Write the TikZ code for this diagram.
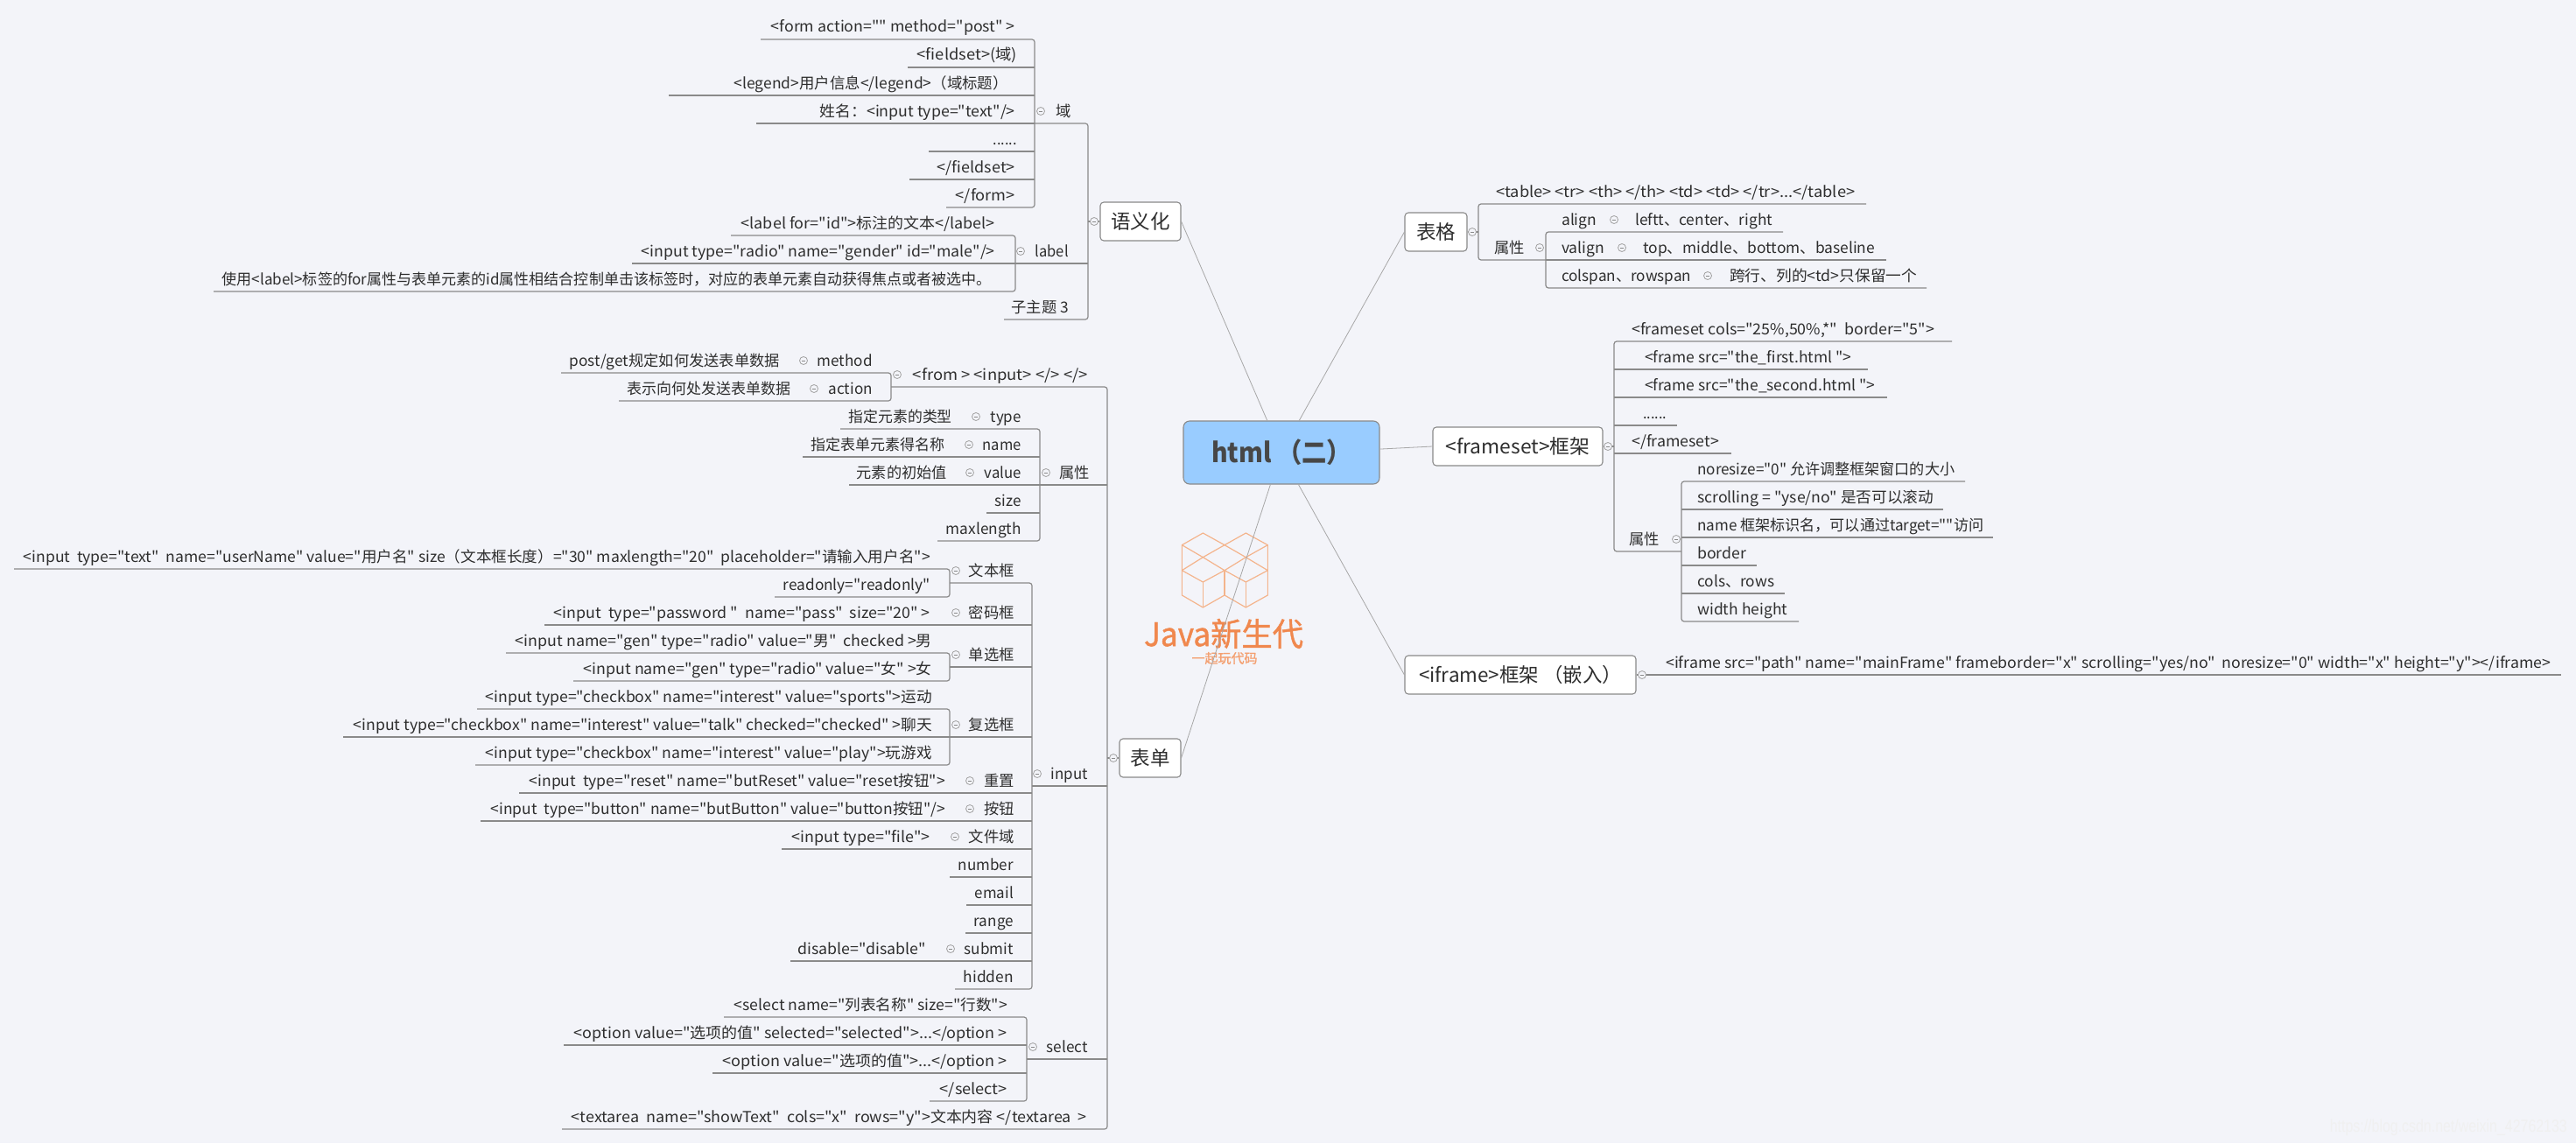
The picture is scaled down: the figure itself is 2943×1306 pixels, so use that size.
\documentclass[tikz,border=0pt]{standalone}
\usepackage{fontspec}
\newfontfamily\cjkf{Noto Sans CJK SC}
\newfontfamily\logof[FakeBold=1.2]{Noto Sans CJK SC}
\setmainfont{Noto Sans CJK SC}
\newfontfamily\wmfont{Liberation Sans}
\definecolor{bgc}{HTML}{F3F4F9}
\definecolor{ulc}{HTML}{8A8A8A}
\definecolor{txc}{HTML}{2E2E2E}
\definecolor{logoc}{HTML}{F3B48C}
\definecolor{logot}{HTML}{F0884E}
\definecolor{rootc}{HTML}{99CCFF}
\tikzset{
  txt/.style={inner sep=0pt,text=txc,font=\cjkf\fontsize{17.3}{20}\selectfont},
  ul/.style={draw=ulc,line width=1.2pt},
  lnk/.style={draw=ulc!75,line width=0.8pt},
  togg/.style={circle,draw=ulc!80,fill=bgc,line width=0.8pt,minimum size=9pt,inner sep=0pt,
    path picture={\draw[ulc,line width=0.7pt] ([xshift=-2pt]path picture bounding box.center) -- ([xshift=2pt]path picture bounding box.center);}},
  topic/.style={rectangle,rounded corners=4pt,draw=ulc,fill=white,line width=1.1pt,inner sep=0pt,minimum height=44pt,text=txc,font=\cjkf\fontsize{22.5}{26}\selectfont},
}
\newcommand\fw[2]{\sbox0{#2}\pgfmathsetmacro\fwf{#1/\wd0}\scalebox{\fwf}[1]{\usebox0}}
\newcommand\rowLe[6]{\coordinate (#1-l) at (#2,#4); \coordinate (#1-r) at (#3,#4); \node[txt,anchor=base east] (#1) at (#5,#4-8) {#6};}
\newcommand\rowLm[6]{\rowLe{#1}{#2}{#3}{#4}{#5}{#6}\draw[ul] (#1-l) -- (#1-r);}
\newcommand\rowRe[6]{\coordinate (#1-l) at (#2,#4); \coordinate (#1-r) at (#3,#4); \node[txt,anchor=base west] (#1) at (#5,#4-8) {#6};}
\newcommand\rowRm[6]{\rowRe{#1}{#2}{#3}{#4}{#5}{#6}\draw[ul] (#1-l) -- (#1-r);}
\newcommand\xtL[4]{\node[txt,anchor=base east] (#1) at (#2,#3-8) {#4};}
\newcommand\xtR[4]{\node[txt,anchor=base west] (#1) at (#2,#3-8) {#4};}
\newcommand\tg[3]{\node[togg] (#1) at (#2,#3-14) {};}
\newcommand\brkL[2]{\draw[ul,rounded corners=3pt] (#1-l) -- (#1-r) -- (#2-r) -- (#2-l);}
\newcommand\brkR[2]{\draw[ul,rounded corners=3pt] (#1-r) -- (#1-l) -- (#2-l) -- (#2-r);}
\begin{document}
\begin{tikzpicture}[x=1pt,y=-1pt]
\useasboundingbox[fill=bgc] (0,0) rectangle (2943,1306);
% logo
\begin{scope}[shift={(1290,600)},x=0.33333pt,y=-0.33333pt,draw=logoc,line width=1.2pt,line join=round]
\draw (181,68)--(253,27)--(327,68)--(253,110)--cycle;
\draw (327,68)--(400,27)--(475,68)--(400,110)--cycle;
\draw (181,155)--(253,110)--(327,155)--(253,195)--cycle;
\draw (327,155)--(400,110)--(475,155)--(400,195)--cycle;
\draw (181,68)--(181,240)--(253,282)--(327,240)--(400,282)--(475,240)--(475,68);
\draw (253,195)--(253,282) (327,155)--(327,240) (400,195)--(400,282);
\end{scope}
\node[inner sep=0pt,text=logot,font=\logof\fontsize{37}{40}\selectfont] (logotxt) at (1398,724) {\fw{182}{Java新生代}};
\node[inner sep=0pt,text=logot!80,font=\logof\fontsize{15}{16}\selectfont] (logosub) at (1399,752) {一起玩代码};
\node[inner sep=0pt,text=black!6,anchor=east,font=\wmfont\fontsize{20}{22}\selectfont] (wm) at (2933,1288) {\fw{271}{https://blog.csdn.net/weixin\_42762133}};
% topics
\node[topic,minimum width=224pt,minimum height=72pt,fill=rootc,rounded corners=7pt,text=black!72,font=\cjkf\fontsize{31}{34}\selectfont\bfseries] (root) at (1464,517) {\fw{160}{html~（二）}};
\node[topic,minimum width=92pt] (sem) at (1303,253) {语义化};
\node[topic,minimum width=71pt] (tab) at (1640.5,265) {表格};
\node[topic,minimum width=194pt] (fra) at (1734,510) {\fw{165}{<frameset>框架}};
\node[topic,minimum width=264pt] (ifr) at (1737,771) {\fw{232}{<iframe>框架 （嵌入）}};
\node[topic,minimum width=70pt] (frm) at (1314,866) {表单};
\draw[lnk] (root.114) -- (sem.east);
\draw[lnk] (root.61) -- (tab.west);
\draw[lnk] (root.2) -- (fra.west);
\draw[lnk] (root.298) -- (ifr.west);
\draw[lnk] (root.251.6) -- (frm.east);

% ---------- yuyihua: field
\rowLe{a1}{869}{1182}{45}{1160}{\fw{279}{<form action="" method="post" >}}
\rowLm{a2}{1037}{1182}{77}{1162}{\fw{114}{<fieldset>(域)}}
\rowLm{a3}{764}{1182}{109}{1152}{\fw{313}{<legend>用户信息</legend>（域标题）}}
\rowLm{a4}{864}{1182}{141}{1160}{\fw{223}{姓名：<input type="text"/>}}
\rowLm{a5}{1061}{1182}{173}{1162}{\fw{27}{......}}
\rowLm{a6}{1039}{1182}{205}{1160}{\fw{89}{</fieldset>}}
\rowLe{a7}{1081}{1182}{237}{1160}{\fw{68}{</form>}}
\brkL{a1}{a7}
\rowLe{yu}{1182}{1243}{141}{1224}{域}
\tg{tyu}{1189}{141}
% label
\rowLe{b1}{835}{1160}{269}{1137}{\fw{290}{<label for="id">标注的文本</label>}}
\rowLm{b2}{722}{1160}{301}{1137}{\fw{404}{<input type="radio" name="gender" id="male"/>}}
\rowLe{b3}{244}{1160}{333}{1133}{\fw{879}{使用<label>标签的for属性与表单元素的id属性相结合控制单击该标签时，对应的表单元素自动获得焦点或者被选中。}}
\brkL{b1}{b3}
\rowLm{lab}{1160}{1243}{301}{1221}{\fw{38}{label}}
\tg{tlab}{1166}{301}
\rowLe{zz}{1147}{1243}{365}{1221}{子主题 3}
\brkL{yu}{zz}
\draw[ul] (sem.west) -- (sem.west -| yu-r);
\node[togg] (tsem) at (1250,253) {};

% ---------- biaodan
\rowLe{m1}{641}{1018}{426}{891}{\fw{240}{post/get规定如何发送表单数据}}
\xtL{m1b}{997}{426}{\fw{63}{method}}
\tg{tm1}{918}{426}
\rowLe{m2}{707}{1018}{458}{904}{\fw{187}{表示向何处发送表单数据}}
\xtL{m2b}{997}{458}{\fw{50}{action}}
\tg{tm2}{930}{458}
\brkL{m1}{m2}
\rowLe{fr}{1018}{1265}{442}{1243}{\fw{200}{<from >~<input>~</>~</>}}
\tg{tfr}{1025}{442}
% attributes
\rowLe{p1}{960}{1188}{490}{1088}{\fw{118}{指定元素的类型}}
\xtL{p1b}{1167}{490}{\fw{35}{type}}
\tg{tp1}{1115}{490}
\rowLm{p2}{917}{1188}{522}{1080}{\fw{153}{指定表单元素得名称}}
\xtL{p2b}{1167}{522}{\fw{44}{name}}
\tg{tp2}{1107}{522}
\rowLm{p3}{970}{1188}{554}{1082}{\fw{103}{元素的初始值}}
\xtL{p3b}{1167}{554}{\fw{42}{value}}
\tg{tp3}{1108}{554}
\rowLm{p4}{1127}{1188}{586}{1167}{\fw{30}{size}}
\rowLe{p5}{1071}{1188}{618}{1167}{\fw{86}{maxlength}}
\brkL{p1}{p5}
\rowLm{shu}{1188}{1265}{554}{1245}{属性}
\tg{tshu}{1195}{554}
% textbox
\rowLe{i1}{16}{1085}{650}{1063}{\fw{1036}{<input~~type="text"~~name="userName" value="用户名" size（文本框长度）="30" maxlength="20"~~placeholder="请输入用户名">}}
\rowLe{i2}{885}{1085}{682}{1063}{\fw{168}{readonly="readonly"}}
\brkL{i1}{i2}
\rowLe{wb}{1085}{1179}{666}{1159}{文本框}
\tg{twb}{1092}{666}
% password
\rowLm{mm}{622}{1085}{714}{1063}{\fw{430}{<input~~type="password "~~name="pass"~~size="20" >}}
\rowLm{mmb}{1085}{1179}{714}{1159}{密码框}
\tg{tmm}{1092}{714}
% radio
\rowLe{r1}{578}{1085}{746}{1065}{\fw{476}{<input name="gen" type="radio" value="男"~~checked >男}}
\rowLe{r2}{655}{1085}{778}{1065}{\fw{398}{<input name="gen" type="radio" value="女" >女}}
\brkL{r1}{r2}
\rowLm{dx}{1085}{1179}{762}{1159}{单选框}
\tg{tdx}{1092}{762}
% checkbox
\rowLe{c1}{545}{1085}{810}{1065}{\fw{510}{<input type="checkbox" name="interest" value="sports">运动}}
\rowLm{c2}{392}{1085}{842}{1065}{\fw{661}{<input type="checkbox" name="interest" value="talk" checked="checked" >聊天}}
\rowLe{c3}{543}{1085}{874}{1065}{\fw{510}{<input type="checkbox" name="interest" value="play">玩游戏}}
\brkL{c1}{c3}
\rowLm{fx}{1085}{1179}{842}{1159}{复选框}
\tg{tfx}{1092}{842}
% others
\rowLm{q1}{593}{1179}{906}{1080}{\fw{475}{<input~~type="reset" name="butReset" value="reset按钮">}}
\xtL{q1b}{1159}{906}{重置}
\tg{tq1}{1108}{906}
\rowLm{q2}{549}{1179}{938}{1080}{\fw{519}{<input~~type="button" name="butButton" value="button按钮"/>}}
\xtL{q2b}{1159}{938}{按钮}
\tg{tq2}{1108}{938}
\rowLm{q3}{893}{1179}{970}{1063}{\fw{158}{<input type="file">}}
\xtL{q3b}{1159}{970}{文件域}
\tg{tq3}{1091}{970}
\rowLm{q4}{1085}{1179}{1002}{1158}{\fw{63}{number}}
\rowLm{q5}{1104}{1179}{1034}{1158}{\fw{44}{email}}
\rowLm{q6}{1103}{1179}{1066}{1158}{\fw{45}{range}}
\rowLm{q7}{903}{1179}{1098}{1058}{\fw{146}{disable="disable"}}
\xtL{q7b}{1158}{1098}{\fw{56}{submit}}
\tg{tq7}{1086}{1098}
\rowLe{q8}{1091}{1179}{1130}{1158}{\fw{57}{hidden}}
\draw[ul,rounded corners=3pt] (wb-l) -- (wb-r) -- (q8-r) -- (q8-l);
\rowLm{inp}{1179}{1265}{898}{1243}{\fw{42}{input}}
\tg{tinp}{1185}{898}
% select
\rowLe{s1}{827}{1173}{1162}{1151}{\fw{312}{<select name="列表名称" size="行数">}}
\rowLm{s2}{644}{1173}{1194}{1151}{\fw{495}{<option value="选项的值" selected="selected">...</option >}}
\rowLm{s3}{814}{1173}{1226}{1151}{\fw{325}{<option value="选项的值">...</option >}}
\rowLe{s4}{1062}{1173}{1258}{1151}{\fw{77}{</select>}}
\brkL{s1}{s4}
\rowLm{sel}{1173}{1265}{1210}{1243}{\fw{47}{select}}
\tg{tsel}{1180}{1210}
\rowLe{ta}{642}{1265}{1290}{1242}{\fw{589}{<textarea~~name="showText"~~cols="x"~~rows="y">文本内容 </textarea~~>}}
\brkL{fr}{ta}
\draw[ul] (frm.west) -- (frm.west -| fr-r);
\node[togg] (tfrm) at (1272,866) {};

% ---------- table
\rowRe{t1}{1689}{2132}{233}{1709}{\fw{410}{<table>~<tr>~<th>~</th>~<td>~<td>~</tr>...</table>}}
\rowRe{t2}{1689}{1766}{297}{1707}{属性}
\brkR{t1}{t2}
\tg{tt2}{1759}{297}
\rowRe{u1}{1766}{2037}{265}{1784}{\fw{40}{align}}
\xtR{u1b}{1868}{265}{\fw{157}{leftt、center、right}}
\tg{tu1}{1844}{265}
\rowRm{u2}{1766}{2155}{297}{1784}{\fw{49}{valign}}
\xtR{u2b}{1877}{297}{\fw{265}{top、middle、bottom、baseline}}
\tg{tu2}{1853}{297}
\rowRe{u3}{1766}{2201}{329}{1784}{\fw{148}{colspan、rowspan}}
\xtR{u3b}{1976}{329}{\fw{214}{跨行、列的<td>只保留一个}}
\tg{tu3}{1951}{329}
\brkR{u1}{u3}
\draw[ul] (tab.east) -- (tab.east -| t1-l);
\node[togg] (ttab) at (1682,265) {};

% ---------- frameset
\rowRe{f1}{1844}{2230}{390}{1864}{\fw{346}{<frameset cols="25\%,50\%,*"~~border="5">}}
\rowRm{f2}{1844}{2134}{422}{1879}{\fw{236}{<frame src="the\_first.html ">}}
\rowRm{f3}{1844}{2156}{454}{1879}{\fw{263}{<frame src="the\_second.html ">}}
\rowRm{f4}{1844}{1916}{486}{1877}{\fw{27}{......}}
\rowRm{f5}{1844}{1978}{518}{1864}{\fw{100}{</frameset>}}
\rowRe{f6}{1844}{1921}{630}{1861}{属性}
\brkR{f1}{f6}
\tg{tf6}{1915}{630}
\rowRe{g1}{1921}{2245}{550}{1939}{\fw{294}{noresize="0" 允许调整框架窗口的大小}}
\rowRm{g2}{1921}{2220}{582}{1939}{\fw{270}{scrolling = "yse/no" 是否可以滚动}}
\rowRm{g3}{1921}{2277}{614}{1939}{\fw{327}{name 框架标识名，可以通过target=""访问}}
\rowRm{g4}{1921}{2007}{646}{1939}{\fw{56}{border}}
\rowRm{g5}{1921}{2039}{678}{1939}{\fw{88}{cols、rows}}
\rowRe{g6}{1921}{2055}{710}{1939}{\fw{103}{width height}}
\brkR{g1}{g6}
\draw[ul] (fra.east) -- (fra.east -| f1-l);
\node[togg] (tfra) at (1837,510) {};

% ---------- iframe
\rowRm{h1}{1880}{2926}{771}{1903}{\fw{1011}{<iframe src="path" name="mainFrame" frameborder="x" scrolling="yes/no"~~noresize="0" width="x" height="y"></iframe>}}
\draw[ul] (ifr.east) -- (h1-l);
\node[togg] (tifr) at (1876,771) {};
\end{tikzpicture}
\end{document}
